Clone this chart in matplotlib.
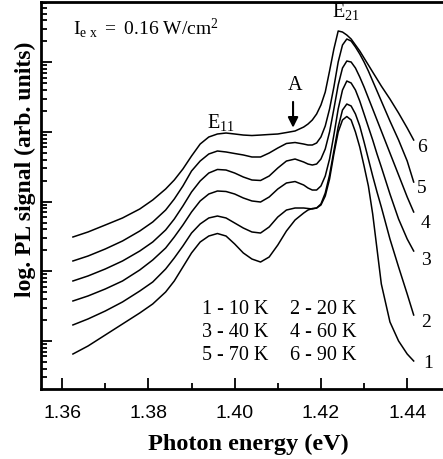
import numpy as np
import matplotlib
matplotlib.use("Agg")
import matplotlib.pyplot as plt
from matplotlib.ticker import LogLocator, NullFormatter, MultipleLocator

plt.rcParams['mathtext.fontset'] = 'custom'
plt.rcParams['mathtext.rm'] = 'Liberation Serif'
plt.rcParams['mathtext.it'] = 'Liberation Serif'

# Photon energy grid (eV)
energy = [1.3625, 1.366, 1.370, 1.374, 1.378, 1.381, 1.384, 1.386, 1.388, 1.390,
          1.392, 1.394, 1.396, 1.398, 1.400, 1.402, 1.404, 1.406, 1.408, 1.410,
          1.412, 1.414, 1.416, 1.417, 1.418, 1.419, 1.420, 1.421, 1.422, 1.423,
          1.424, 1.425, 1.426, 1.427, 1.428, 1.429, 1.430, 1.431, 1.432, 1.433,
          1.434, 1.436, 1.438, 1.440, 1.4415]

# log10 of PL signal (arb. units) for each temperature
log_pl_10K = [-0.187, -0.072, 0.086, 0.244, 0.402, 0.531, 0.703, 0.861, 1.062, 1.263,
              1.420, 1.506, 1.542, 1.506, 1.392, 1.263, 1.176, 1.133, 1.205, 1.377,
              1.578, 1.736, 1.836, 1.879, 1.901, 1.908, 1.951, 2.080, 2.324, 2.683,
              2.999, 3.171, 3.221, 3.171, 2.999, 2.783, 2.511, 2.224, 1.822, 1.320,
              0.818, 0.273, 0.000, -0.187, -0.287]
log_pl_20K = [0.230, 0.316, 0.430, 0.560, 0.717, 0.846, 1.033, 1.191, 1.363, 1.549,
              1.679, 1.765, 1.793, 1.765, 1.693, 1.621, 1.564, 1.549, 1.636, 1.779,
              1.879, 1.908, 1.908, 1.901, 1.894, 1.908, 1.966, 2.123, 2.382, 2.726,
              3.070, 3.314, 3.400, 3.372, 3.257, 3.085, 2.855, 2.611, 2.367, 2.138,
              1.922, 1.463, 1.062, 0.674, 0.373]
log_pl_40K = [0.574, 0.646, 0.746, 0.861, 1.019, 1.162, 1.334, 1.492, 1.664, 1.851,
              2.009, 2.109, 2.152, 2.145, 2.109, 2.052, 2.009, 1.994, 2.066, 2.181,
              2.267, 2.288, 2.238, 2.195, 2.166, 2.166, 2.224, 2.367, 2.611, 2.955,
              3.329, 3.601, 3.730, 3.702, 3.601, 3.443, 3.257, 3.070, 2.884, 2.683,
              2.496, 2.109, 1.750, 1.463, 1.291]
log_pl_60K = [0.861, 0.933, 1.033, 1.148, 1.291, 1.420, 1.593, 1.750, 1.937, 2.138,
              2.296, 2.410, 2.461, 2.453, 2.410, 2.353, 2.310, 2.303, 2.367, 2.482,
              2.582, 2.611, 2.568, 2.539, 2.525, 2.539, 2.611, 2.755, 2.999, 3.329,
              3.673, 3.917, 4.017, 4.003, 3.917, 3.788, 3.644, 3.486, 3.329, 3.171,
              3.013, 2.697, 2.382, 2.066, 1.851]
log_pl_70K = [1.148, 1.219, 1.320, 1.435, 1.578, 1.707, 1.879, 2.037, 2.224, 2.439,
              2.582, 2.683, 2.726, 2.712, 2.690, 2.669, 2.640, 2.640, 2.697, 2.769,
              2.834, 2.848, 2.826, 2.812, 2.812, 2.841, 2.927, 3.085, 3.329, 3.644,
              4.003, 4.247, 4.333, 4.304, 4.218, 4.118, 4.003, 3.874, 3.730, 3.587,
              3.443, 3.156, 2.884, 2.582, 2.281]
log_pl_90K = [1.492, 1.564, 1.664, 1.765, 1.894, 2.023, 2.181, 2.310, 2.468, 2.654,
              2.826, 2.927, 2.970, 2.984, 2.970, 2.955, 2.948, 2.955, 2.963, 2.970,
              2.991, 3.013, 3.070, 3.113, 3.171, 3.257, 3.386, 3.572, 3.874, 4.189,
              4.448, 4.433, 4.390, 4.333, 4.247, 4.161, 4.060, 3.960, 3.859, 3.759,
              3.658, 3.472, 3.271, 3.056, 2.884]

curves = [log_pl_10K, log_pl_20K, log_pl_40K, log_pl_60K, log_pl_70K, log_pl_90K]
curve_labels = ["1", "2", "3", "4", "5", "6"]
legend_rows = [("1 - 10 K", "2 - 20 K"), ("3 - 40 K", "4 - 60 K"), ("5 - 70 K", "6 - 90 K")]
xticks = [1.36, 1.38, 1.40, 1.42, 1.44]
xticklabels = ["1.36", "1.38", "1.40", "1.42", "1.44"]

serif = 'Liberation Serif'

fig = plt.figure(figsize=(4.43, 4.60), dpi=100)
ax = fig.add_axes([41/443, 70/460, 402/443, 387/460])

for c in curves:
    ax.plot(energy, 10 ** np.array(c), color='black', lw=1.1)

ax.set_yscale('log')
ax.set_xlim(1.3551, 1.4483)
ax.set_ylim(10 ** -0.689, 10 ** 4.864)

ax.yaxis.set_major_locator(LogLocator(base=10, numticks=20))
ax.yaxis.set_minor_locator(LogLocator(base=10, subs=np.arange(2, 10), numticks=20))
ax.yaxis.set_major_formatter(NullFormatter())
ax.yaxis.set_minor_formatter(NullFormatter())
ax.set_xticks(xticks)
ax.set_xticklabels(xticklabels, family='Liberation Sans', fontsize=14)
ax.xaxis.set_minor_locator(MultipleLocator(0.01))

ax.tick_params(axis='both', which='both', direction='in', width=1.3)
ax.tick_params(axis='x', which='major', length=8, pad=11)
ax.tick_params(axis='x', which='minor', length=4)
ax.tick_params(axis='y', which='major', length=8)
ax.tick_params(axis='y', which='minor', length=4.5)
ax.tick_params(top=False, right=False, which='both')

for s in ['left', 'bottom', 'top']:
    ax.spines[s].set_linewidth(2.0)
ax.spines['right'].set_visible(False)

ax.set_xlabel("Photon energy (eV)", family=serif, fontweight='bold', fontsize=17.5)
ax.xaxis.set_label_coords(0.517, -0.113)
ax.set_ylabel("log. PL signal (arb. units)", family=serif, fontweight='bold', fontsize=17)
ax.yaxis.set_label_coords(-0.012, 0.571)

ax.text(0.0796, 0.9354, r'$\mathregular{I_{e\ x}\ =\ 0.16\ W/cm^{2}}$', transform=ax.transAxes,
        family=serif, fontsize=14, va='center', ha='left')
ax.text(0.4129, 0.6925, r'$\mathregular{E_{11}}$', transform=ax.transAxes,
        family=serif, fontsize=14.5, va='center', ha='left')
ax.text(0.7239, 0.9793, r'$\mathregular{E_{21}}$', transform=ax.transAxes,
        family=serif, fontsize=14.5, va='center', ha='left')
ax.text(0.6318, 0.7881, 'A', transform=ax.transAxes, family=serif,
        fontsize=14.5, va='center', ha='center')
ax.annotate('', xy=(0.627, 0.668), xytext=(0.627, 0.749), xycoords='axes fraction',
            arrowprops=dict(arrowstyle='-|>', color='black', lw=1.5, mutation_scale=15))

row_y = [0.2093, 0.1473, 0.0879]
for (a, b), y in zip(legend_rows, row_y):
    ax.text(0.4005, y, a, transform=ax.transAxes, family=serif, fontsize=14.5, va='center', ha='left')
    ax.text(0.6194, y, b, transform=ax.transAxes, family=serif, fontsize=14.5, va='center', ha='left')

label_pos = [(0.9627, 0.0672), (0.9577, 0.1757), (0.9577, 0.3359),
             (0.9577, 0.4315), (0.9478, 0.5194), (0.9478, 0.6279)]
for lab, (x, y) in zip(curve_labels, label_pos):
    ax.text(x, y, lab, transform=ax.transAxes, family=serif, fontsize=14, va='center', ha='center')

fig.savefig("out.png", dpi=100)
